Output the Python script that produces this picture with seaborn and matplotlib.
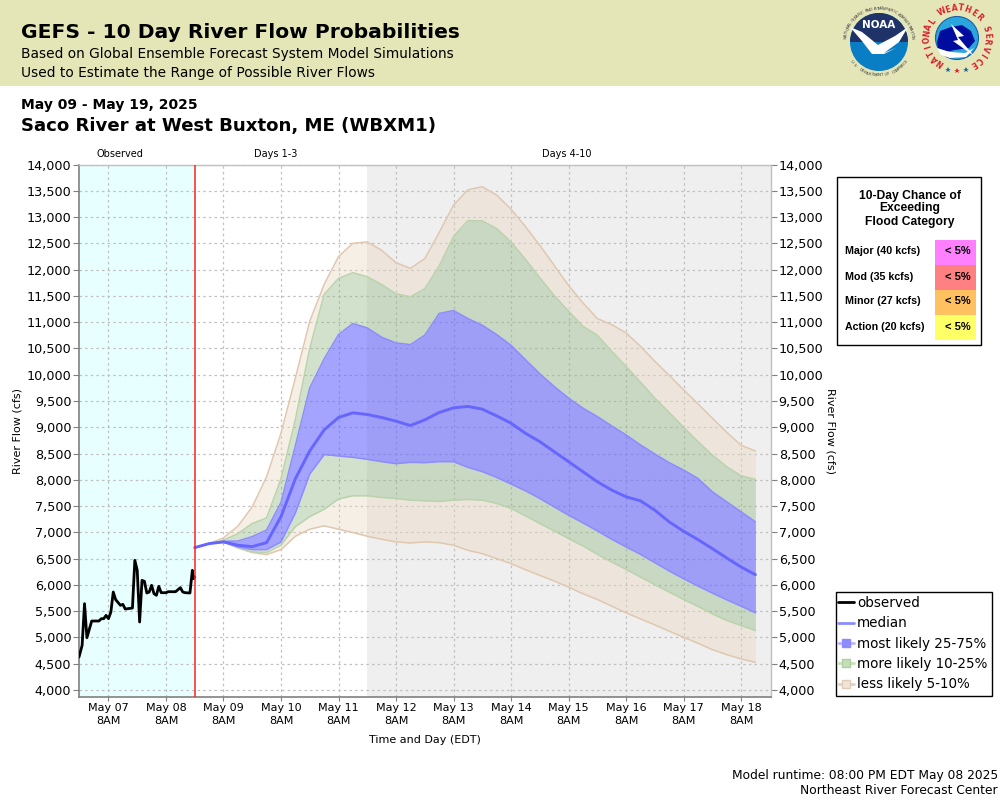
import pandas as pd
import numpy as np
import matplotlib
matplotlib.use('Agg')
import matplotlib.pyplot as plt
from matplotlib.lines import Line2D
from matplotlib.patches import Rectangle, Circle, Polygon, Wedge
from matplotlib.ticker import FuncFormatter, MultipleLocator
import seaborn as sns

# observed flow, hours after May 07 8AM
obs_hours = [-12.3, -11, -10, -9, -7, -4, -3, -2, -1, 0, 1, 2, 3, 5, 6, 7, 10, 11, 12, 13, 14, 15, 16, 17, 18,
             19, 20, 21, 22, 24, 25, 28, 30, 31, 32, 34, 35, 35.5, 36]
obs_flow = [4627, 4849, 5643, 4995, 5313, 5313, 5357, 5357, 5420, 5357, 5484, 5865, 5719, 5611, 5630, 5541, 5560,
            6468, 6278, 5294, 6087, 6068, 5846, 5865, 5992, 5833, 5802, 5973, 5852, 5852, 5871, 5871, 5948, 5865,
            5852, 5846, 6278, 6119, 6151]

# forecast percentiles, every 6 hours from May 08 8PM
q95 = [6710, 6786, 6895, 7117, 7486, 8059, 8886, 9937, 11018, 11718, 12247, 12501, 12527, 12368, 12132, 12024, 12208,
       12705, 13227, 13519, 13577, 13418, 13150, 12819, 12463, 12081, 11699, 11368, 11069, 10955, 10796, 10541, 10255,
       9988, 9714, 9447, 9173, 8906, 8657, 8549]
q90 = [6710, 6786, 6850, 6977, 7168, 7276, 8020, 9150, 10500, 11527, 11833, 11941, 11865, 11718, 11540, 11483, 11636,
       12069, 12628, 12934, 12928, 12781, 12527, 12196, 11846, 11508, 11209, 10923, 10751, 10446, 10159, 9860, 9555,
       9281, 9001, 8727, 8473, 8250, 8078, 8008]
q75 = [6710, 6786, 6830, 6835, 6920, 7045, 7570, 8650, 9750, 10300, 10764, 10974, 10891, 10713, 10605, 10573, 10751,
       11165, 11222, 11069, 10942, 10764, 10560, 10287, 10019, 9777, 9555, 9364, 9205, 9027, 8855, 8664, 8492, 8326,
       8186, 8027, 7773, 7582, 7391, 7200]
q50 = [6710, 6786, 6818, 6755, 6729, 6805, 7300, 8020, 8550, 8950, 9186, 9275, 9243, 9186, 9116, 9033, 9141, 9281,
       9370, 9396, 9345, 9217, 9077, 8886, 8727, 8536, 8346, 8155, 7964, 7805, 7677, 7601, 7423, 7200, 7022, 6863,
       6691, 6513, 6341, 6195]
q25 = [6710, 6786, 6818, 6723, 6672, 6672, 6818, 7370, 8110, 8480, 8454, 8428, 8390, 8346, 8307, 8333, 8326, 8346,
       8346, 8237, 8155, 8046, 7919, 7792, 7645, 7486, 7327, 7181, 7028, 6869, 6723, 6583, 6424, 6265, 6118, 5978,
       5845, 5717, 5596, 5469]
q10 = [6710, 6786, 6818, 6704, 6627, 6615, 6755, 7110, 7300, 7440, 7633, 7696, 7696, 7665, 7645, 7614, 7601, 7588,
       7614, 7626, 7614, 7550, 7455, 7315, 7168, 7028, 6882, 6742, 6583, 6436, 6296, 6150, 6004, 5864, 5724, 5590,
       5450, 5323, 5227, 5132]
q05 = [6710, 6786, 6818, 6704, 6615, 6576, 6672, 6926, 7060, 7124, 7060, 6996, 6926, 6869, 6818, 6799, 6818, 6805,
       6755, 6659, 6595, 6500, 6405, 6290, 6182, 6074, 5959, 5832, 5724, 5596, 5469, 5354, 5240, 5119, 5004, 4890,
       4769, 4674, 4591, 4527]

flood_labels = ['Major (40 kcfs)', 'Mod (35 kcfs)', 'Minor (27 kcfs)', 'Action (20 kcfs)']
flood_chance = ['< 5%', '< 5%', '< 5%', '< 5%']
flood_colors = ['#FF80FF', '#FF8080', '#FFC060', '#FFFF66']

TAN = '#EAD8BF'
GREEN = '#90B681'
BLUE = '#6868FE'

sns.set_theme(style='ticks')
plt.rcParams['font.family'] = ['DejaVu Sans']
plt.rcParams['text.color'] = 'black'
plt.rcParams['xtick.labelcolor'] = 'black'
plt.rcParams['ytick.labelcolor'] = 'black'

t0 = pd.Timestamp('2025-05-07 08:00')
obs = pd.DataFrame({'time': t0 + pd.to_timedelta(obs_hours, unit='h'), 'flow': obs_flow})
fc = pd.DataFrame({'time': pd.date_range('2025-05-08 20:00', periods=len(q50), freq='6h'),
                   'q95': q95, 'q90': q90, 'q75': q75, 'q50': q50, 'q25': q25, 'q10': q10, 'q05': q05})

fig = plt.figure(figsize=(10, 8), dpi=100)
ax = fig.add_axes([0.079, 0.12875, 0.692, 0.6656])

xmin = t0 - pd.Timedelta(hours=12.3)
xmax = t0 + pd.Timedelta(hours=276.5)
start = fc['time'].iloc[0]
ax.axvspan(xmin, start, color='#E8FFFF', lw=0, zorder=0)
ax.axvspan(pd.Timestamp('2025-05-11 20:00'), xmax, color='#EFEFEF', lw=0, zorder=0)

ax.grid(True, color='#C0C0C0', linestyle=(0, (2, 2.5)), linewidth=0.9, zorder=1)
ax.set_axisbelow(True)

for low, high, col in [('q05', 'q10', TAN), ('q90', 'q95', TAN), ('q10', 'q25', GREEN), ('q75', 'q90', GREEN),
                       ('q25', 'q75', BLUE)]:
    ax.fill_between(fc['time'], fc[low], fc[high], color=col, alpha=0.4 if col != BLUE else 0.6, lw=0, zorder=2)
for name, edge in [('q95', '#E0C8B0'), ('q05', '#E0C8B0'), ('q90', '#BAD3AC'), ('q10', '#BAD3AC'),
                   ('q75', '#8C8CFF'), ('q25', '#8C8CFF')]:
    sns.lineplot(data=fc, x='time', y=name, color=edge, lw=1.1, ax=ax, zorder=3, estimator=None)

sns.lineplot(data=fc, x='time', y='q50', color='#6666FF', lw=2.1, ax=ax, zorder=4, estimator=None)
sns.lineplot(data=obs, x='time', y='flow', color='black', lw=2.0, ax=ax, zorder=4, estimator=None, sort=False)
ax.axvline(start, color='#FF2020', lw=1.1, zorder=5)

ax.set_xlim(xmin, xmax)
ax.set_ylim(3867, 14000)
ticks = pd.date_range('2025-05-07 08:00', '2025-05-18 08:00', freq='D')
ax.set_xticks(ticks)
ax.set_xticklabels([d.strftime('%b %d') + '\n8AM' for d in ticks], fontsize=8, linespacing=1.3)
ax.yaxis.set_major_locator(MultipleLocator(500))
ax.yaxis.set_major_formatter(FuncFormatter(lambda v, p: f'{int(v):,}'))
ax.tick_params(axis='y', labelsize=9.2, length=4, width=0.8, color='#808080', left=True, right=True,
               labelleft=True, labelright=True, pad=1.5)
ax.tick_params(axis='x', length=3, width=0.8, color='#808080', pad=1.5)
for s in ['left', 'bottom']:
    ax.spines[s].set_color('#808080')
    ax.spines[s].set_linewidth(1.2)
for s in ['top', 'right']:
    ax.spines[s].set_visible(True)
    ax.spines[s].set_color('#C0C0C0')
    ax.spines[s].set_linewidth(1.0)
ax.set_xlabel('')
ax.set_ylabel('')

# figure level overlay, pixel coordinates
ov = fig.add_axes([0, 0, 1, 1], zorder=10)
ov.set_xlim(0, 1000)
ov.set_ylim(800, 0)
ov.axis('off')
ov.patch.set_alpha(0)

ov.add_patch(Rectangle((0, 0), 1000, 86, color='#E5E6B8', lw=0))
ov.text(21, 33, 'GEFS - 10 Day River Flow Probabilities', fontsize=14.6, fontweight='bold', va='center')
ov.text(21, 54, 'Based on Global Ensemble Forecast System Model Simulations', fontsize=9.9, va='center')
ov.text(21, 73, 'Used to Estimate the Range of Possible River Flows', fontsize=9.9, va='center')
ov.text(21, 105, 'May 09 - May 19, 2025', fontsize=10, fontweight='bold', va='center')
ov.text(21, 126, 'Saco River at West Buxton, ME (WBXM1)', fontsize=13.1, fontweight='bold', va='center')

ov.text(120, 154, 'Observed', fontsize=7, ha='center', va='center')
ov.text(276, 154, 'Days 1-3', fontsize=7, ha='center', va='center')
ov.text(567, 154, 'Days 4-10', fontsize=7, ha='center', va='center')
ov.text(18, 431, 'River Flow (cfs)', fontsize=8, rotation=90, ha='center', va='center')
ov.text(831, 431, 'River Flow (cfs)', fontsize=8, rotation=270, ha='center', va='center')
ov.text(425, 740, 'Time and Day (EDT)', fontsize=8, ha='center', va='center')
ov.text(998, 775, 'Model runtime: 08:00 PM EDT May 08 2025', fontsize=8.8, ha='right', va='center')
ov.text(998, 791, 'Northeast River Forecast Center', fontsize=8.85, ha='right', va='center')

# flood category table
ov.add_patch(Rectangle((836.5, 177), 144, 168, fc='white', ec='black', lw=1))
sans = ['Liberation Sans', 'DejaVu Sans']
for i, line in enumerate(['10-Day Chance of', 'Exceeding', 'Flood Category']):
    ov.text(910, 195.5 + i * 13, line, family=sans, fontsize=8.75, fontweight='bold', ha='center', va='center')
for i, (lab, pct, col) in enumerate(zip(flood_labels, flood_chance, flood_colors)):
    ov.add_patch(Rectangle((935, 240 + i * 25), 41, 25.3, color=col, lw=0))
    ov.text(845, 251.5 + i * 25, lab, family=sans, fontsize=7.7, fontweight='bold', va='center')
    ov.text(957.5, 251.5 + i * 25, pct, family=sans, fontsize=8, fontweight='bold', ha='center', va='center')

# NOAA logo
ov.add_patch(Circle((879, 42), 29, fc='#0A7EC4', ec='none'))
ov.add_patch(Wedge((879, 42), 29, 180, 360, fc='#1F3369', ec='none'))
ov.add_patch(Polygon([(850, 27), (862, 32), (878, 45), (895, 36), (908, 27), (899, 42), (884, 53), (896, 48), (884, 54),
                      (872, 54), (862, 41)], fc='white', ec='none'))
ov.text(879, 25, 'NOAA', color='white', fontsize=7.5, fontweight='bold', ha='center', va='center')
ring = 'NATIONAL OCEANIC AND ATMOSPHERIC ADMINISTRATION'
for i, ch in enumerate(ring):
    a = np.deg2rad(172 - i * 164 / (len(ring) - 1))
    ov.text(879 + 33.5 * np.cos(a), 42 - 33.5 * np.sin(a), ch, fontsize=3, rotation=np.rad2deg(a) - 90,
            ha='center', va='center', color='#404040')
ring = 'U.S. DEPARTMENT OF COMMERCE'
for i, ch in enumerate(ring):
    a = np.deg2rad(215 + i * 110 / (len(ring) - 1))
    ov.text(879 + 33.5 * np.cos(a), 42 - 33.5 * np.sin(a), ch, fontsize=3, rotation=np.rad2deg(a) + 90,
            ha='center', va='center', color='#404040')

# NWS logo
ov.add_patch(Circle((957, 38), 21.5, fc='#2AA6DC', ec='#1C5FA8', lw=0.8))
ov.add_patch(Polygon([(937, 42), (940, 31), (951, 27), (962, 25), (971, 31), (975, 41), (969, 48), (955, 50), (945, 52),
                      (938, 48)], fc='#000C9E', ec='none'))
ov.add_patch(Polygon([(937, 48), (950, 52), (965, 53), (974, 48), (966, 57), (950, 58), (941, 55)], fc='white', ec='none'))
ov.add_patch(Polygon([(951, 24), (964, 36), (958, 37), (974, 56), (953, 41), (958, 40)], fc='white', ec='none'))
ring = 'NATIONAL WEATHER SERVICE'
for i, ch in enumerate(ring):
    a = np.deg2rad(235 - i * 293 / (len(ring) - 1))
    ov.text(957 + 30 * np.cos(a), 38 - 30 * np.sin(a), ch, fontsize=5.5, fontweight='bold', color='#D8202C',
            rotation=np.rad2deg(a) - 90, ha='center', va='center')
for dx, col in [(-9, '#1C5FA8'), (0, '#D8202C'), (9, '#1C5FA8')]:
    ov.plot(957 + dx, 71 - abs(dx) * 0.15, marker='*', ms=4, color=col, mew=0)

# legend box drawn apart so the rows can sit where they should
ov.add_patch(Rectangle((835.5, 591.5), 156, 104.5, fc='white', ec='black', lw=1))
handles = [Line2D([], [], color='black', lw=2),
           Line2D([], [], color='#8C8CFF', lw=2),
           Line2D([], [], color='#B8B8FF', lw=2, marker='s', ms=6, mfc='#8C8CFF', mec='#8C8CFF'),
           Line2D([], [], color='#C8E0BC', lw=2, marker='s', ms=6, mfc='#C4DEB8', mec='#B0D0A0'),
           Line2D([], [], color='#E6D2BC', lw=2, marker='s', ms=6, mfc='#F0E4D8', mec='#E0CDB8')]
labels = ['observed', 'median', 'most likely 25-75%', 'more likely 10-25%', 'less likely 5-10%']
ov.legend(handles, labels, loc='upper left', bbox_to_anchor=(838, 596), bbox_transform=ov.transData, fontsize=9.75,
          frameon=False, borderpad=0, labelspacing=0.47, handlelength=1.18, handletextpad=0.22, borderaxespad=0)

plt.savefig('out.png', dpi=100)
